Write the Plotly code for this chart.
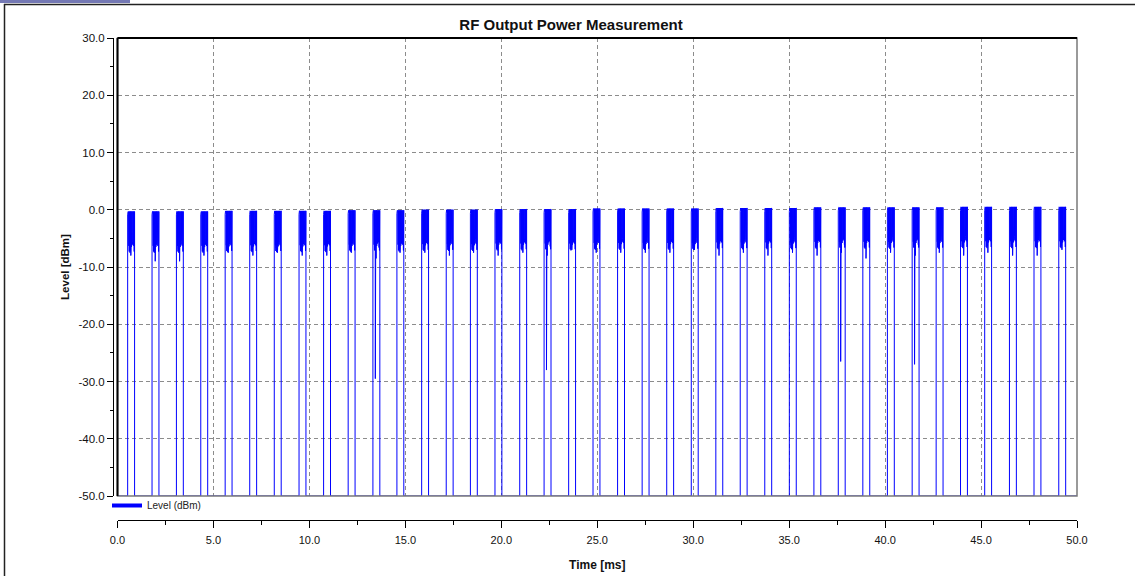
import plotly.graph_objects as go

# ---------------- data ----------------
pulse_start_ms = [0.53, 1.80, 3.07, 4.34, 5.61, 6.89, 8.17, 9.46, 10.74, 12.02,
                  13.31, 14.56, 15.85, 17.13, 18.39, 19.67, 20.96, 22.23, 23.51, 24.78,
                  26.06, 27.34, 28.62, 29.90, 31.18, 32.45, 33.73, 35.01, 36.29, 37.56,
                  38.84, 40.12, 41.41, 42.66, 43.93, 45.19, 46.48, 47.76, 49.05]
pulse_top_dbm = [-0.3, -0.3, -0.3, -0.3, -0.2, -0.2, -0.2, -0.2, -0.2, -0.1,
                 -0.1, -0.1, 0.0, 0.0, 0.0, 0.1, 0.1, 0.1, 0.1, 0.2,
                 0.2, 0.2, 0.2, 0.2, 0.3, 0.3, 0.3, 0.3, 0.4, 0.4,
                 0.4, 0.4, 0.4, 0.4, 0.5, 0.5, 0.5, 0.5, 0.5]
pulse_dip_dbm = [-8.0, -9.0, -9.0, -8.0, -7.5, -8.0, -7.5, -8.0, -8.0, -7.5,
                 -8.5, -7.5, -7.5, -8.0, -7.5, -8.0, -7.5, -8.0, -7.0, -7.5,
                 -7.5, -7.5, -7.5, -7.0, -8.0, -7.5, -8.0, -7.5, -8.0, -7.5,
                 -8.5, -7.5, -8.0, -7.5, -8.0, -7.5, -8.0, -8.0, -7.0]
spike_pulse_index = [10, 17, 29, 32]
spike_level_dbm = [-29.5, -28.0, -26.5, -27.0]
pulse_width_ms = 0.36
floor_dbm = -50.0
# in-pulse ripple read from a magnified pulse (offset ms, level relative to top dB)
ripple_offset_ms = [0.02, 0.05, 0.06, 0.07, 0.08, 0.09, 0.10, 0.11, 0.12, 0.13,
                    0.14, 0.15, 0.16, 0.17, 0.18, 0.19, 0.20, 0.21, 0.22, 0.23,
                    0.24, 0.25, 0.26, 0.27, 0.28, 0.29, 0.30, 0.31, 0.32, 0.33,
                    0.34, 0.35]
ripple_rel_db = [0.0, -0.1, -6.0, 0.0, -7.0, -0.2, -6.5, 0.0, -7.2, -0.1,
                 -6.8, 0.0, -7.0, -0.2, -6.0, 0.0, -6.2, -0.1, -5.5, 0.0,
                 -5.8, -0.2, -5.2, 0.0, -5.6, -0.1, -6.0, 0.0, -6.5, -0.1,
                 -7.0, 0.0]
dip_offset_ms = 0.165
spike_offset_ms = 0.125

x_tick_vals = [0, 5, 10, 15, 20, 25, 30, 35, 40, 45, 50]
x_tick_text = ["0.0", "5.0", "10.0", "15.0", "20.0", "25.0", "30.0", "35.0", "40.0", "45.0", "50.0"]
y_tick_vals = [30, 20, 10, 0, -10, -20, -30, -40, -50]
y_tick_text = ["30.0", "20.0", "10.0", "0.0", "-10.0", "-20.0", "-30.0", "-40.0", "-50.0"]

# ---------------- build trace ----------------
xs, ys = [0.0], [floor_dbm]
for i, t0 in enumerate(pulse_start_ms):
    top = pulse_top_dbm[i]
    xs += [t0, t0]
    ys += [floor_dbm, top - 0.6]
    for off, rel in zip(ripple_offset_ms, ripple_rel_db):
        if abs(off - 0.13) < 1e-9 and i in spike_pulse_index:
            xs.append(t0 + spike_offset_ms)
            ys.append(spike_level_dbm[spike_pulse_index.index(i)])
        if abs(off - 0.17) < 1e-9:
            xs.append(t0 + dip_offset_ms)
            ys.append(pulse_dip_dbm[i])
        xs.append(t0 + off)
        ys.append(top + rel)
    xs += [t0 + pulse_width_ms, t0 + pulse_width_ms]
    ys += [top, floor_dbm]
xs.append(50.0)
ys.append(floor_dbm)

BLUE = "#0000ff"
FONT = "Liberation Sans, Arial, sans-serif"

fig = go.Figure()
fig.add_trace(go.Scatter(x=xs, y=ys, mode="lines", line=dict(color=BLUE, width=1),
                         name="Level (dBm)", showlegend=False, hoverinfo="skip"))
fig.add_trace(go.Scatter(x=[None], y=[None], mode="lines", line=dict(color=BLUE, width=4),
                         name="Level (dBm)", showlegend=True))

W, H = 1135, 576
ML, MR, MT, MB = 113, 58, 38, 56
pw, ph = W - ML - MR, H - MT - MB


def px(xp):
    return (xp - ML) / pw


def py(yp):
    return (H - MB - yp) / ph


fig.update_layout(
    width=W, height=H,
    margin=dict(l=ML, r=MR, t=MT, b=MB, pad=0, autoexpand=False),
    paper_bgcolor="white", plot_bgcolor="white",
    title=dict(text="<b>RF Output Power Measurement</b>", x=571 / W, xref="container",
               xanchor="center", y=1 - 25 / H, yref="container", yanchor="middle",
               font=dict(family=FONT, size=15, color="#111111")),
    showlegend=True,
    legend=dict(x=px(107), y=py(491), xanchor="left", yanchor="top",
                font=dict(family=FONT, size=10, color="#222222"),
                bgcolor="rgba(0,0,0,0)", borderwidth=0, itemwidth=30,
                tracegroupgap=0),
    xaxis=dict(range=[0, 50], domain=[px(117.5), 1], anchor="free", position=0,
               tickvals=x_tick_vals, ticktext=x_tick_text,
               ticks="outside", ticklen=7, tickcolor="black", tickwidth=1,
               ticklabelstandoff=3,
               minor=dict(dtick=2.5, tick0=0, ticklen=4, tickcolor="black", showgrid=False, ticks="outside"),
               showline=True, linecolor="black", linewidth=1,
               showgrid=True, gridcolor="#8c8c8c", griddash="4px,3px", gridwidth=1,
               zeroline=False,
               tickfont=dict(family=FONT, size=11, color="#111111"),
               title=dict(text="<b>Time [ms]</b>", standoff=15,
                          font=dict(family=FONT, size=12, color="#111111"))),
    yaxis=dict(range=[-50, 30], domain=[py(496), 1], anchor="free", position=0,
               tickvals=y_tick_vals, ticktext=y_tick_text,
               ticks="outside", ticklen=6, tickcolor="black", tickwidth=1,
               minor=dict(dtick=5, tick0=0, ticklen=3, tickcolor="black", showgrid=False, ticks="outside"),
               showline=True, linecolor="black", linewidth=1,
               showgrid=True, gridcolor="#8c8c8c", griddash="4px,3px", gridwidth=1,
               zeroline=False,
               tickfont=dict(family=FONT, size=11.5, color="#111111"),
               title=dict(text="<b>Level [dBm]</b>", standoff=5,
                          font=dict(family=FONT, size=11.5, color="#111111"))),
)

# plot frame
fig.add_shape(type="rect", xref="x domain", yref="y domain", x0=0, x1=1, y0=0, y1=1,
              line=dict(color="#7a7a7a", width=1.5), fillcolor="rgba(0,0,0,0)")
fig.add_shape(type="line", xref="x domain", yref="y domain", x0=0, x1=1, y0=1, y1=1,
              line=dict(color="black", width=2))
fig.add_shape(type="line", xref="x domain", yref="y domain", x0=0, x1=0, y0=0, y1=1,
              line=dict(color="black", width=2))
# outer window border and tab
fig.add_shape(type="line", xref="paper", yref="paper", x0=px(4), x1=px(1135), y0=py(4.5), y1=py(4.5),
              line=dict(color="#222222", width=1.5))
fig.add_shape(type="line", xref="paper", yref="paper", x0=px(4.5), x1=px(4.5), y0=py(4), y1=py(576),
              line=dict(color="#222222", width=1.5))
fig.add_shape(type="rect", xref="paper", yref="paper", x0=px(0), x1=px(130), y0=py(0), y1=py(3),
              line=dict(width=0), fillcolor="#7478b4")

fig.write_html("out.html", config={"displayModeBar": False},
               post_script="document.body.style.margin='0px';document.body.style.overflow='hidden';")
